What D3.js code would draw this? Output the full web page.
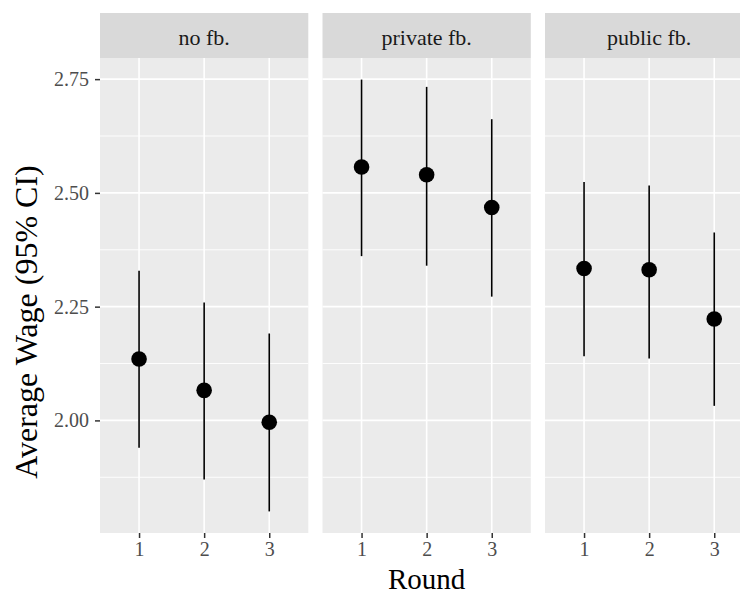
<!DOCTYPE html>
<html>
<head>
<meta charset="utf-8">
<script src="https://cdn.jsdelivr.net/npm/d3@7"></script>
<style>
  html, body { margin: 0; padding: 0; background: #ffffff; overflow: hidden; }
  svg { display: block; }
</style>
</head>
<body>
<svg id="chart" width="740" height="594"></svg>
<script>
// ---- data ----
const panels = ["no fb.", "private fb.", "public fb."];
const rounds = [1, 2, 3];
const meanNoFb      = [2.135, 2.066, 1.996];
const lowerNoFb     = [1.940, 1.870, 1.800];
const upperNoFb     = [2.329, 2.259, 2.191];
const meanPrivate   = [2.557, 2.540, 2.468];
const lowerPrivate  = [2.361, 2.340, 2.272];
const upperPrivate  = [2.749, 2.733, 2.662];
const meanPublic    = [2.334, 2.331, 2.223];
const lowerPublic   = [2.141, 2.136, 2.032];
const upperPublic   = [2.524, 2.516, 2.413];
const yTicks = [2.00, 2.25, 2.50, 2.75];
const yMinor = [1.875, 2.125, 2.375, 2.625];
const xLabel = "Round";
const yLabel = "Average Wage (95% CI)";

const series = [
  { panel: panels[0], mean: meanNoFb,    lower: lowerNoFb,    upper: upperNoFb },
  { panel: panels[1], mean: meanPrivate, lower: lowerPrivate, upper: upperPrivate },
  { panel: panels[2], mean: meanPublic,  lower: lowerPublic,  upper: upperPublic }
];

// ---- layout ----
const font = "'Liberation Serif', 'DejaVu Serif', serif";
const left = 100, pw = 208.3, gap = 14.2;
const stripTop = 13, stripH = 45;
const panelTop = stripTop + stripH, panelBottom = 533;

const svg = d3.select("#chart");

const allLow = d3.min(series, s => d3.min(s.lower));
const allHigh = d3.max(series, s => d3.max(s.upper));
const pad = (allHigh - allLow) * 0.05;
const y = d3.scaleLinear().domain([allLow - pad, allHigh + pad]).range([panelBottom, panelTop]);

const x = d3.scalePoint().domain(rounds).range([0, pw]).padding(0.6);

series.forEach((s, i) => {
  const px = left + i * (pw + gap);
  const g = svg.append("g").attr("transform", `translate(${px},0)`);

  // strip
  g.append("rect").attr("x", 0).attr("y", stripTop).attr("width", pw).attr("height", stripH)
    .attr("fill", "#D9D9D9");
  g.append("text").attr("x", pw / 2).attr("y", 45)
    .attr("text-anchor", "middle").attr("font-family", font).attr("font-size", 22)
    .attr("fill", "#1A1A1A").text(s.panel);

  // panel background
  g.append("rect").attr("x", 0).attr("y", panelTop).attr("width", pw).attr("height", panelBottom - panelTop)
    .attr("fill", "#EBEBEB");

  // minor grid
  g.selectAll(".minor").data(yMinor).enter().append("line")
    .attr("x1", 0).attr("x2", pw).attr("y1", d => y(d)).attr("y2", d => y(d))
    .attr("stroke", "#ffffff").attr("stroke-width", 0.9);
  // major grid
  g.selectAll(".major").data(yTicks).enter().append("line")
    .attr("x1", 0).attr("x2", pw).attr("y1", d => y(d)).attr("y2", d => y(d))
    .attr("stroke", "#ffffff").attr("stroke-width", 1.6);
  g.selectAll(".vmajor").data(rounds).enter().append("line")
    .attr("x1", d => x(d)).attr("x2", d => x(d)).attr("y1", panelTop).attr("y2", panelBottom)
    .attr("stroke", "#ffffff").attr("stroke-width", 1.6);

  // x axis
  const xAxis = d3.axisBottom(x).tickSize(5).tickPadding(4);
  const ax = g.append("g").attr("transform", `translate(0,${panelBottom})`).call(xAxis);
  ax.select(".domain").remove();
  ax.selectAll(".tick line").attr("stroke", "#333333").attr("stroke-width", 1.5);
  ax.selectAll(".tick text").attr("font-family", font).attr("font-size", 20)
    .attr("fill", "#4D4D4D").attr("dy", "0.72em");

  // error bars
  g.selectAll(".err").data(rounds).enter().append("line")
    .attr("x1", d => x(d)).attr("x2", d => x(d))
    .attr("y1", (d, j) => y(s.lower[j])).attr("y2", (d, j) => y(s.upper[j]))
    .attr("stroke", "#000000").attr("stroke-width", 1.6);
  // points
  g.selectAll(".pt").data(rounds).enter().append("circle")
    .attr("cx", d => x(d)).attr("cy", (d, j) => y(s.mean[j]))
    .attr("r", 7.8).attr("fill", "#000000");
});

// y axis
const yAxis = d3.axisLeft(y).tickValues(yTicks).tickFormat(d3.format(".2f")).tickSize(5).tickPadding(6);
const ay = svg.append("g").attr("transform", `translate(${left},0)`).call(yAxis);
ay.select(".domain").remove();
ay.selectAll(".tick line").attr("stroke", "#333333").attr("stroke-width", 1.5);
ay.selectAll(".tick text").attr("font-family", font).attr("font-size", 20).attr("fill", "#4D4D4D");

// axis titles
const totalRight = left + 3 * pw + 2 * gap;
svg.append("text").attr("x", (left + totalRight) / 2).attr("y", 589)
  .attr("text-anchor", "middle").attr("font-family", font).attr("font-size", 29)
  .attr("fill", "#000000").text(xLabel);
svg.append("text").attr("transform", "translate(37,322) rotate(-90)")
  .attr("text-anchor", "middle").attr("font-family", font).attr("font-size", 32)
  .attr("fill", "#000000").text(yLabel);
</script>
</body>
</html>
